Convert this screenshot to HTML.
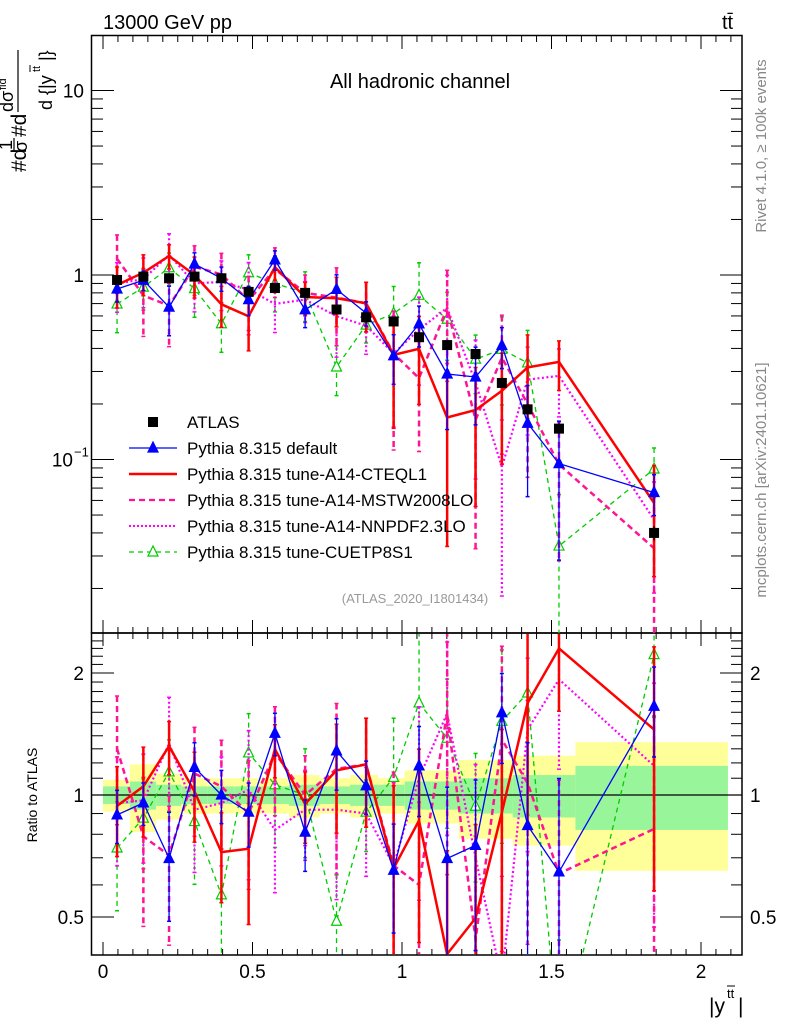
<!DOCTYPE html>
<html><head><meta charset="utf-8"><style>
html,body{margin:0;padding:0;background:#fff;width:786px;height:1024px;overflow:hidden;}
svg{display:block;font-family:"Liberation Sans",sans-serif;}
</style></head><body>
<svg id="chart" width="786" height="1024" viewBox="0 0 786 1024" xmlns="http://www.w3.org/2000/svg">
<defs>
<clipPath id="cm"><rect x="92" y="36" width="650" height="597"/></clipPath>
<clipPath id="cr"><rect x="92" y="634" width="650" height="320"/></clipPath>
</defs>
<rect width="786" height="1024" fill="#fff"/>
<g id="bands" clip-path="url(#cr)"></g>
<g id="axes"></g>
<g id="series-main" clip-path="url(#cm)"></g>
<g id="series-ratio" clip-path="url(#cr)"></g>
<text x="103" y="29" font-size="20">13000 GeV pp</text>
<text x="722" y="29" font-size="20">tt̄</text>
<text x="420" y="88" font-size="20" text-anchor="middle">All hadronic channel</text>
<text x="415" y="603" font-size="13" fill="#999" text-anchor="middle">(ATLAS_2020_I1801434)</text>
<text transform="translate(766,146) rotate(-90)" font-size="15" fill="#888" text-anchor="middle">Rivet 4.1.0, ≥ 100k events</text>
<text transform="translate(766,480) rotate(-90)" font-size="15" fill="#888" text-anchor="middle">mcplots.cern.ch [arXiv:2401.10621]</text>
<g transform="rotate(-90)" font-size="21">
<text x="-172" y="26">#d</text>
<text x="-150" y="12" font-size="18">1</text>
<line x1="-152" y1="14" x2="-138" y2="14" stroke="#000" stroke-width="1.2"/>
<text x="-152" y="27" font-size="18">σ</text>
<text x="-137" y="26">#d</text>
<text x="-112" y="13" font-size="18">dσ</text>
<text x="-90" y="6" font-size="11">fid</text>
<line x1="-112" y1="18" x2="-50" y2="18" stroke="#000" stroke-width="1.2"/>
<text x="-110" y="52" font-size="18">d {|y</text>
<text x="-72" y="40" font-size="11">tt</text>
<line x1="-72" y1="30" x2="-65" y2="30" stroke="#000" stroke-width="1"/>
<text x="-61" y="52" font-size="18">|}</text>
</g>
<text transform="translate(37,795) rotate(-90)" font-size="14" text-anchor="middle">Ratio to ATLAS</text>
<g font-size="21">
<text x="709" y="1013">|y</text>
<text x="727" y="998" font-size="13">tt</text>
<line x1="727" y1="986" x2="735" y2="986" stroke="#000" stroke-width="1"/>
<text x="738" y="1013">|</text>
</g>
<g id="legend" font-size="17"></g>
</svg>
<script>
const xCenters = [0.047,0.135,0.221,0.306,0.396,0.487,0.575,0.676,0.781,0.880,0.972,1.057,1.151,1.246,1.334,1.420,1.525,1.843];
const binEdges = [0,0.09,0.178,0.262,0.349,0.439,0.528,0.622,0.724,0.826,0.92,1.009,1.098,1.19,1.283,1.37,1.465,1.58,2.09];
const atlasValues = [0.94,0.98,0.96,0.98,0.96,0.81,0.85,0.80,0.65,0.59,0.56,0.46,0.417,0.373,0.26,0.187,0.147,0.040];
const atlasTotalUnc = [0.09,0.19,0.13,0.1,0.1,0.1,0.1,0.12,0.1,0.12,0.1,0.15,0.15,0.22,0.22,0.25,0.25,0.35];
const atlasStatUnc = [0.05,0.08,0.06,0.05,0.05,0.05,0.05,0.06,0.05,0.06,0.06,0.08,0.08,0.1,0.1,0.12,0.12,0.18];
const defaultRatio = [0.893,0.956,0.697,1.17,1.0,0.907,1.42,0.81,1.285,1.054,0.652,1.18,0.697,0.751,1.595,0.841,0.646,1.655];
const defaultErr = [.15,.12,.3,.15,.15,.18,.12,.2,.2,.15,.3,.25,.5,.45,.25,.6,.7,.25];
const cteqRatio = [0.94,1.05,1.32,1.02,0.723,0.737,1.297,0.95,1.15,1.19,0.659,0.865,0.405,0.497,0.907,1.687,2.3,1.45];
const cteqErr = [.25,.25,.15,.25,.25,.35,.15,.2,.3,.3,.6,.5,.8,.7,.6,.5,.3,.6];
const mstwRatio = [1.3,0.79,0.71,1.13,1.05,0.9,1.27,1.0,1.16,1.19,0.67,0.6,1.59,0.44,1.37,1.07,0.64,0.825];
const mstwErr = [.35,.4,.4,.3,.3,.35,.3,.25,.45,.3,.7,.6,.6,.8,.7,.6,.7,.9];
const nnpdfRatio = [0.955,0.97,1.34,0.92,0.955,1.03,0.82,0.92,0.92,0.9,0.67,1.1,1.59,0.7,0.35,1.45,1.93,1.18];
const nnpdfErr = [.3,.3,.3,.3,.3,.4,.3,.25,.4,.3,.6,.5,.5,.7,.8,.5,.4,.6];
const cuetRatio = [0.74,0.877,1.14,0.86,0.567,1.27,1.06,1.0,0.488,0.907,1.105,1.687,1.38,0.938,1.52,1.785,0.231,2.22];
const cuetErr = [.3,.25,.2,.3,.3,.25,.3,.3,.3,.2,.4,.5,.4,.35,.5,.5,.9,.3];
const xTicks = [0,0.5,1,1.5,2];
const xTickLabels = ["0","0.5","1","1.5","2"];
const ratioTicks = [0.5,1,2];
const ratioTickLabels = ["0.5","1","2"];

const NS = "http://www.w3.org/2000/svg";
const X = v => 103 + v*299;
const Ym = v => 275 - 184.5*Math.log10(v);
const Yr = r => 795 - 122*Math.log2(r);
function mk(tag, attrs, parent){const e=document.createElementNS(NS,tag);for(const k in attrs)e.setAttribute(k,attrs[k]);parent.appendChild(e);return e;}
const axes=document.getElementById('axes');
const bands=document.getElementById('bands');
const gm=document.getElementById('series-main');
const gr=document.getElementById('series-ratio');
const legend=document.getElementById('legend');

for(let i=0;i<atlasValues.length;i++){
  const x0=X(binEdges[i]), x1=X(binEdges[i+1]);
  const y=mk('rect',{x:x0,y:Yr(1+atlasTotalUnc[i]),width:x1-x0,height:Yr(1-atlasTotalUnc[i])-Yr(1+atlasTotalUnc[i]),fill:'#ffff99'},bands);
  
  
  const g=mk('rect',{x:x0,y:Yr(1+atlasStatUnc[i]),width:x1-x0,height:Yr(1-atlasStatUnc[i])-Yr(1+atlasStatUnc[i]),fill:'#99f599'},bands);
  
  
}
mk('line',{x1:92,y1:Yr(1),x2:742,y2:Yr(1),stroke:'#000','stroke-width':1.3},bands);

const f1=mk('rect',{x:91.5,y:35.5,width:650.5,height:597.5,fill:'none',stroke:'#000','stroke-width':1.5},axes);


const f2=mk('rect',{x:91.5,y:633,width:650.5,height:322,fill:'none',stroke:'#000','stroke-width':1.5},axes);



for(let k=0;k<=42;k++){
  const v=k*0.05, x=X(v); if(x>741)break;
  const major=(k%10===0);
  const L=major?13:6;
  mk('line',{x1:x,y1:955,x2:x,y2:955-L,stroke:'#000','stroke-width':1},axes);
  mk('line',{x1:x,y1:633,x2:x,y2:633-L,stroke:'#000','stroke-width':1},axes);
  mk('line',{x1:x,y1:633,x2:x,y2:633+L,stroke:'#000','stroke-width':1},axes);
  mk('line',{x1:x,y1:36,x2:x,y2:36+L,stroke:'#000','stroke-width':1},axes);
}
xTicks.forEach((v,i)=>{
  const t=mk('text',{x:X(v),y:978,'font-size':19,'text-anchor':'middle'},axes);
  t.textContent=xTickLabels[i];
  
  
});
for(let e=-2;e<=1;e++){
  for(let m=1;m<=9;m++){
    const v=m*Math.pow(10,e), y=Ym(v);
    if(y<36||y>632)continue;
    const L=(m===1)?22:11;
    mk('line',{x1:92,y1:y,x2:92+L,y2:y,stroke:'#000','stroke-width':1},axes);
    mk('line',{x1:742,y1:y,x2:742-L,y2:y,stroke:'#000','stroke-width':1},axes);
  }
}
[[10,"10"],[1,"1"],[0.1,"10"]].forEach(([v,s],i)=>{
  const t=mk('text',{x:i===2?73:84,y:Ym(v)+7,'font-size':19,'text-anchor':'end'},axes);
  t.textContent=s;
  
  
  if(i===2){const s2=mk('text',{x:74,y:Ym(v)-3,'font-size':13},axes);s2.textContent='−1';}
});
for(let r=0.4;r<=2.6;r+=0.1){
  const rr=Math.round(r*10)/10, y=Yr(rr);
  if(y<634||y>954)continue;
  const major=(rr===0.5||rr===1||rr===2);
  const L=major?22:11;
  mk('line',{x1:92,y1:y,x2:92+L,y2:y,stroke:'#000','stroke-width':1},axes);
  mk('line',{x1:742,y1:y,x2:742-L,y2:y,stroke:'#000','stroke-width':1},axes);
}
ratioTicks.forEach((v,i)=>{
  const t=mk('text',{x:84,y:Yr(v)+7,'font-size':19,'text-anchor':'end'},axes);
  t.textContent=ratioTickLabels[i];
  
  
  const t2=mk('text',{x:750,y:Yr(v)+7,'font-size':19},axes);
  t2.textContent=ratioTickLabels[i];
  
  
});

function drawSeries(name,ratio,err,style,marker){
  const mainVals=ratio.map((r,i)=>r*atlasValues[i]);
  [[gm,mainVals,Ym,1],[gr,ratio,Yr,0]].forEach(([g,vals,Y,isMain])=>{
    const grp=mk('g',{},g);
    
    
    vals.forEach((v,i)=>{
      const x=X(xCenters[i]);
      const hi=v*(1+err[i]), lo=Math.max(v*(1-err[i]),0.002);
      mk('line',{x1:x,y1:Y(hi),x2:x,y2:Y(lo),stroke:style.color,'stroke-width':style.ew,'stroke-dasharray':style.dash||'none'},grp);
      mk('line',{x1:x-2,y1:Y(hi),x2:x+2,y2:Y(hi),stroke:style.color,'stroke-width':1.5},grp);
      mk('line',{x1:x-2,y1:Y(lo),x2:x+2,y2:Y(lo),stroke:style.color,'stroke-width':1.5},grp);
    });
    const pts=vals.map((v,i)=>X(xCenters[i]).toFixed(1)+','+Y(v).toFixed(1)).join(' ');
    const pl=mk('polyline',{points:pts,fill:'none',stroke:style.color,'stroke-width':style.w,'stroke-dasharray':style.dash||'none'},grp);
    
    
    if(marker){
      vals.forEach((v,i)=>{
        const x=X(xCenters[i]),y=Y(v);
        const m=mk('polygon',{points:`${x},${y-6} ${x-5},${y+4} ${x+5},${y+4}`,fill:marker==='fill'?style.color:'#fff',stroke:style.color,'stroke-width':1.2},grp);
        
        
      });
    }
  });
}
drawSeries('cuetp8s1',cuetRatio,cuetErr,{color:'#00cc00',w:1.3,ew:1.3,dash:'5,4'},'open');
drawSeries('nnpdf',nnpdfRatio,nnpdfErr,{color:'#ff00ff',w:2.2,ew:2.2,dash:'2,2.5'},null);
drawSeries('mstw',mstwRatio,mstwErr,{color:'#ff1493',w:2.5,ew:2.5,dash:'6,4'},null);
drawSeries('cteql1',cteqRatio,cteqErr,{color:'#ff0000',w:2.5,ew:2.5},null);
drawSeries('default',defaultRatio,defaultErr,{color:'#0000ff',w:1.3,ew:1.3},'fill');

const ag=mk('g',{},gm);


atlasValues.forEach((v,i)=>{
  const x=X(xCenters[i]);
  mk('line',{x1:x,y1:Ym(v*(1+atlasStatUnc[i]*0.5)),x2:x,y2:Ym(v*(1-atlasStatUnc[i]*0.5)),stroke:'#000','stroke-width':1.2},ag);
  const r=mk('rect',{x:x-5,y:Ym(v)-5,width:10,height:10,fill:'#000'},ag);
  
  
});

const legendLabels=["ATLAS","Pythia 8.315 default","Pythia 8.315 tune-A14-CTEQL1","Pythia 8.315 tune-A14-MSTW2008LO","Pythia 8.315 tune-A14-NNPDF2.3LO","Pythia 8.315 tune-CUETP8S1"];
const legStyles=[null,{c:'#0000ff',w:1.3,d:'none',m:'fill'},{c:'#ff0000',w:2.5,d:'none'},{c:'#ff1493',w:2.2,d:'6,4'},{c:'#ff00ff',w:2,d:'2,2'},{c:'#00cc00',w:1.3,d:'5,4',m:'open'}];
const legY=[422,448,474,500,526,552];
legendLabels.forEach((lab,i)=>{
  const g=mk('g',{},legend);
  
  
  const y=legY[i];
  const s=legStyles[i];
  if(!s){mk('rect',{x:148,y:y-5,width:10,height:10,fill:'#000'},g);}
  else{
    mk('line',{x1:129,y1:y,x2:177,y2:y,stroke:s.c,'stroke-width':s.w,'stroke-dasharray':s.d},g);
    if(s.m)mk('polygon',{points:`153,${y-6} 148,${y+4} 158,${y+4}`,fill:s.m==='fill'?s.c:'#fff',stroke:s.c,'stroke-width':1.2},g);
  }
  const t=mk('text',{x:187,y:y+6},g);
  t.textContent=lab;
});
</script>
</body></html>
